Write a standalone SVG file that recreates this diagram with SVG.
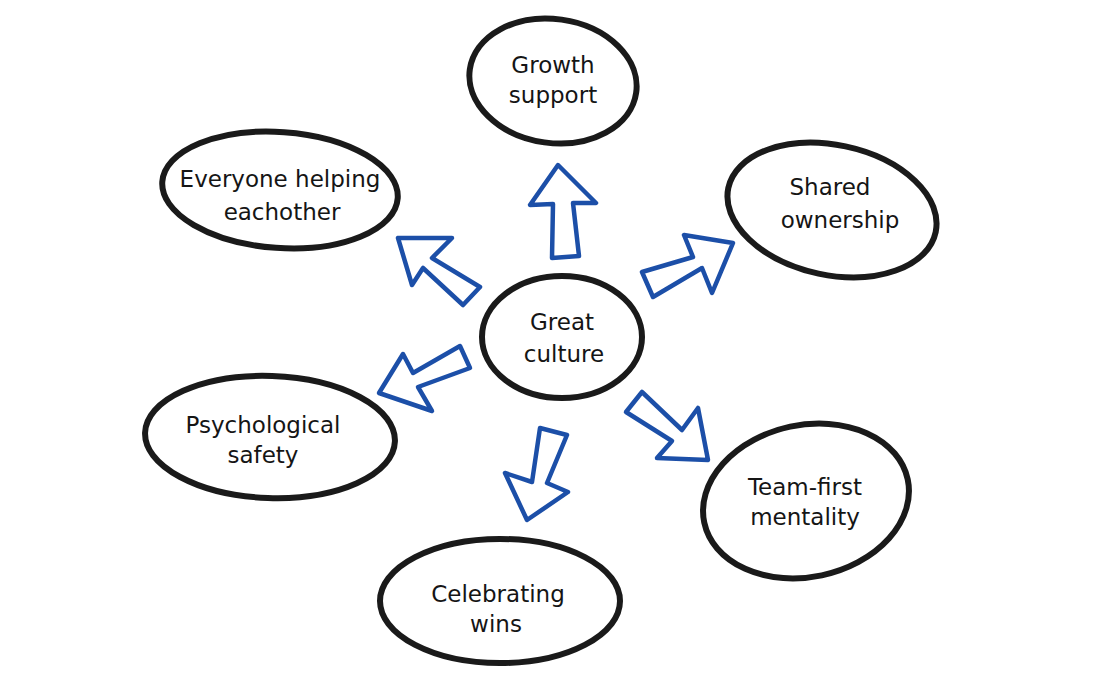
<svg xmlns="http://www.w3.org/2000/svg" width="1100" height="683" viewBox="0 0 1100 683">
<style>
.node ellipse{fill:#fff;stroke:#1a1a1a;stroke-width:6}
.node text{font-family:"DejaVu Sans",sans-serif;font-size:23px;fill:#151515;text-anchor:middle}
.arrow{fill:#fff;stroke:#1c4fa8;stroke-width:4.5;stroke-linejoin:round}
</style>
<rect width="1100" height="683" fill="#fff"/>
<g id="connectors">
<polygon class="arrow" points="558,165 596,203 573,203 579,256 552,258 553,204 530,205"/>
<polygon class="arrow" points="398,238 452,238 432,258 480,287 463,305 423,268 412,285"/>
<polygon class="arrow" points="733,243 712,293 702,268 653,297 642,272 693,257 684,235"/>
<polygon class="arrow" points="379,393 403,354 413,373 460,346 470,368 418,387 432,411"/>
<polygon class="arrow" points="708,460 657,458 672,441 626,412 642,392 682,430 698,408"/>
<polygon class="arrow" points="527,520 505,473 532,482 540,428 567,435 547,483 568,492"/>
</g>
<g id="node-great-culture" class="node">
<ellipse cx="562" cy="337" rx="80" ry="61"/>
<text x="562" y="330">Great</text>
<text x="564" y="362">culture</text>
</g>
<g id="node-growth-support" class="node">
<ellipse cx="553" cy="81" rx="84" ry="62" transform="rotate(8 553 81)"/>
<text x="553" y="73">Growth</text>
<text x="553" y="103">support</text>
</g>
<g id="node-everyone-helping" class="node">
<ellipse cx="280" cy="190" rx="118" ry="58" transform="rotate(4 280 190)"/>
<text x="280" y="187">Everyone helping</text>
<text x="282" y="220">eachother</text>
</g>
<g id="node-shared-ownership" class="node">
<ellipse cx="832" cy="210" rx="106" ry="65" transform="rotate(12 832 210)"/>
<text x="830" y="195">Shared</text>
<text x="840" y="228">ownership</text>
</g>
<g id="node-psychological-safety" class="node">
<ellipse cx="270" cy="437" rx="125" ry="61" transform="rotate(2 270 437)"/>
<text x="263" y="433">Psychological</text>
<text x="263" y="463">safety</text>
</g>
<g id="node-team-first" class="node">
<ellipse cx="806" cy="501" rx="104" ry="76" transform="rotate(-12 806 501)"/>
<text x="805" y="495">Team-first</text>
<text x="805" y="525">mentality</text>
</g>
<g id="node-celebrating-wins" class="node">
<ellipse cx="500" cy="601" rx="120" ry="62"/>
<text x="498" y="602">Celebrating</text>
<text x="496" y="632">wins</text>
</g>
</svg>
